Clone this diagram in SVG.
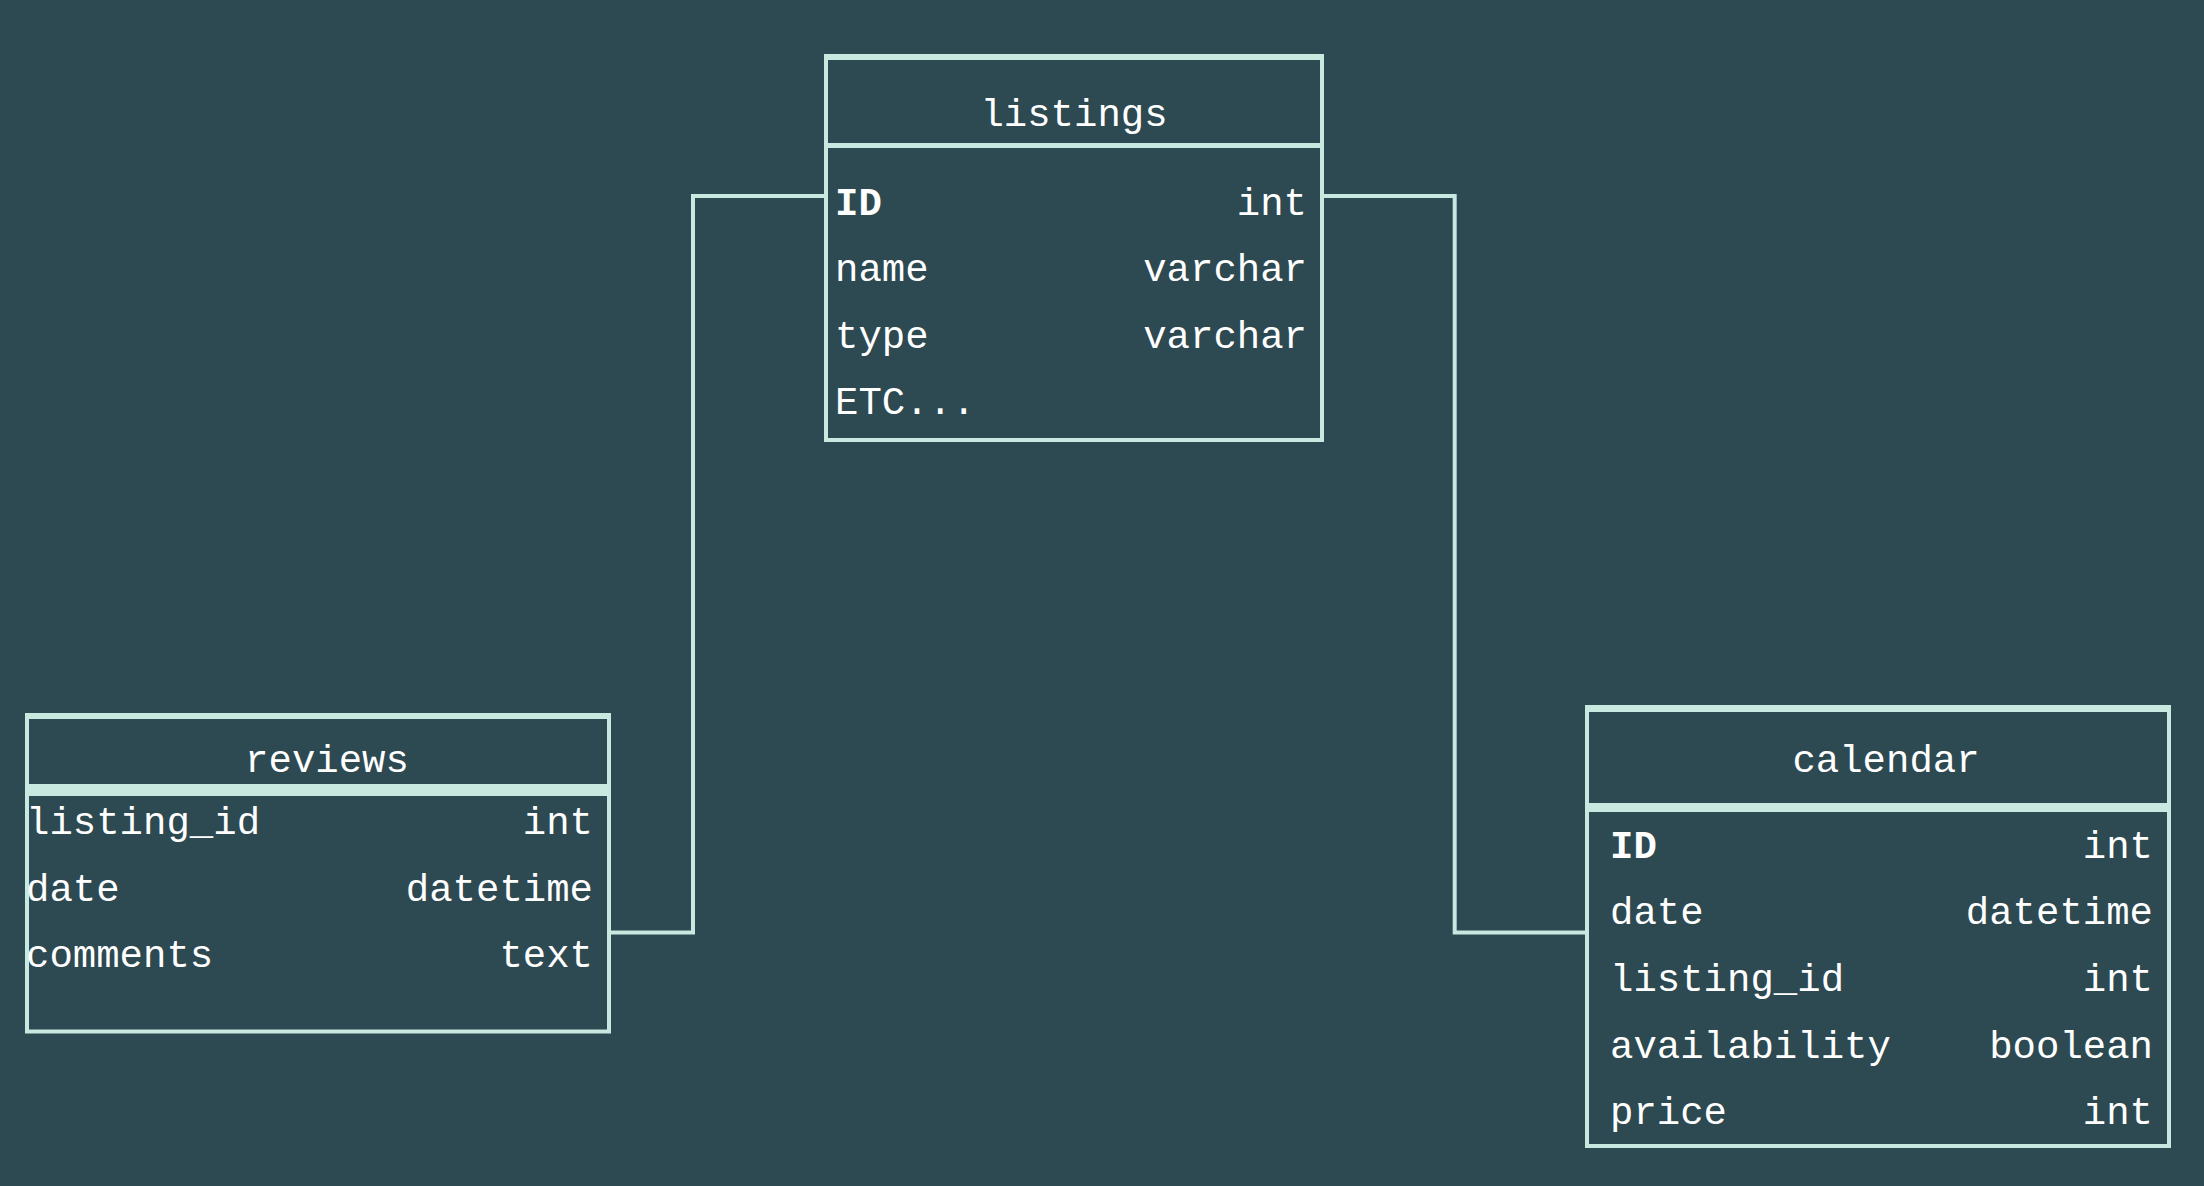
<svg xmlns="http://www.w3.org/2000/svg" width="2204" height="1186" viewBox="0 0 2204 1186">
<style>
.bg{fill:#2d4951}
.box{fill:none;stroke:#c8e9e0;stroke-width:4}
.band{fill:#c8e9e0}
.conn{fill:none;stroke:#c8e9e0;stroke-width:4}
text{font-family:"Liberation Mono","DejaVu Sans Mono",monospace;font-size:39px;fill:#ffffff}
.title{text-anchor:middle}
.r{text-anchor:end}
.pk{font-weight:bold}
</style>
<rect class="bg" x="0" y="0" width="2204" height="1186"/>
<g id="connectors">
<path class="conn" d="M611 932.5 H693 V196 H824"/>
<path class="conn" d="M1324 196 H1454.7 V932.5 H1585"/>
</g>
<g id="listings">
<rect class="box" x="826" y="56.5" width="496" height="383.5"/>
<rect class="band" x="824" y="54" width="500" height="6"/>
<rect class="band" x="824" y="143" width="500" height="5"/>
<text class="title" x="1074" y="126">listings</text>
<text class="pk" x="835" y="215">ID</text>
<text class="r" x="1307" y="215">int</text>
<text x="835" y="281">name</text>
<text class="r" x="1307" y="281">varchar</text>
<text x="835" y="348">type</text>
<text class="r" x="1307" y="348">varchar</text>
<text x="835" y="414">ETC...</text>
</g>
<g id="reviews">
<rect class="box" x="27" y="716" width="582" height="315.5"/>
<rect class="band" x="25" y="713" width="586" height="6"/>
<rect class="band" x="25" y="784" width="586" height="12"/>
<text class="title" x="327" y="772">reviews</text>
<text x="26" y="834">listing_id</text>
<text class="r" x="593" y="834">int</text>
<text x="26" y="901">date</text>
<text class="r" x="593" y="901">datetime</text>
<text x="26" y="967">comments</text>
<text class="r" x="593" y="967">text</text>
</g>
<g id="calendar">
<rect class="box" x="1587" y="708" width="582" height="438"/>
<rect class="band" x="1585" y="705" width="586" height="7"/>
<rect class="band" x="1585" y="803" width="586" height="9"/>
<text class="title" x="1886" y="772">calendar</text>
<text class="pk" x="1610" y="858">ID</text>
<text class="r" x="2153" y="858">int</text>
<text x="1610" y="924">date</text>
<text class="r" x="2153" y="924">datetime</text>
<text x="1610" y="991">listing_id</text>
<text class="r" x="2153" y="991">int</text>
<text x="1610" y="1058">availability</text>
<text class="r" x="2153" y="1058">boolean</text>
<text x="1610" y="1124">price</text>
<text class="r" x="2153" y="1124">int</text>
</g>
</svg>
